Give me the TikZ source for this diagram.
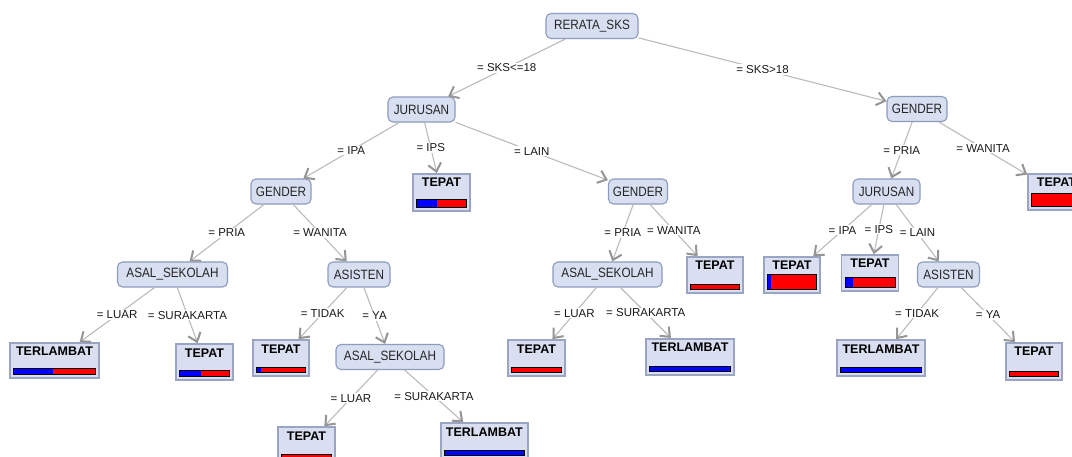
\documentclass[tikz,border=0pt]{standalone}
\usepackage{fontspec}
\setmainfont{Liberation Sans}
\newfontfamily\nodefont[FakeStretch=0.87]{Liberation Sans}
\usetikzlibrary{arrows.meta,calc}
\definecolor{nodefill}{HTML}{D8DFF1}
\definecolor{nodeline}{HTML}{8C9BBE}
\definecolor{leaffill}{HTML}{D9DFF0}
\definecolor{leafline}{HTML}{9AA5C3}
\definecolor{edgecol}{HTML}{BBBBBB}
\definecolor{tipcol}{HTML}{959595}
\definecolor{barblue}{HTML}{0000FF}
\definecolor{barred}{HTML}{FF0000}
\tikzset{
 inode/.style={draw=nodeline, fill=nodefill, line width=1.1pt, rounded corners=5pt, inner sep=0pt, minimum height=25pt, font=\nodefont\fontsize{13.5}{14}\selectfont, text=black!85},
 leaf/.style={draw=leafline, fill=leaffill, line width=1.6pt, inner sep=0pt},
 leaftext/.style={font=\bfseries\fontsize{12.5}{13}\selectfont, inner sep=0pt},
 edge/.style={draw=edgecol, line width=1.1pt, -{Straight Barb[length=8pt,width=13pt,line width=2pt,color=tipcol]}},
 elabel/.style={fill=white, inner sep=1pt, font=\fontsize{11.5}{12}\selectfont, text=black!90},
}
\newcommand{\leafbox}[8]{%
 \node[leaf, minimum width=#4pt, minimum height=#5pt] (#1) at (#2,#3) {};
 \node[leaftext] (#1t) at ([yshift=-9.5pt]#1.north) {#6};
 \pgfmathsetmacro{\lbxL}{#2-#4/2+3.5}
 \pgfmathsetmacro{\lbxR}{#2+#4/2-3.5}
 \pgfmathsetmacro{\lbxB}{#3+#5/2-3.5}
 \pgfmathsetmacro{\lbxT}{\lbxB-#7}
 \pgfmathsetmacro{\lbxM}{\lbxL+#8*(\lbxR-\lbxL)}
 \fill[barred] (\lbxL,\lbxT) rectangle (\lbxR,\lbxB);
 \fill[barblue] (\lbxL,\lbxT) rectangle (\lbxM,\lbxB);
 \draw[black, line width=0.9pt] (\lbxL,\lbxT) rectangle (\lbxR,\lbxB);
}
\begin{document}
\begin{tikzpicture}[x=1pt,y=-1pt]
\fill[white] (0,0) rectangle (1072,457);
\useasboundingbox (0,0) rectangle (1072,457);
% internal nodes
\node[inode, minimum width=92pt] (root) at (592,26) {RERATA\_SKS};
\node[inode, minimum width=67pt] (j1) at (421.5,109.5) {JURUSAN};
\node[inode, minimum width=60pt] (g2) at (917,109) {GENDER};
\node[inode, minimum width=60pt] (g1) at (281,191.5) {GENDER};
\node[inode, minimum width=59pt] (g3) at (638,191.5) {GENDER};
\node[inode, minimum width=67pt] (j2) at (886.5,191.5) {JURUSAN};
\node[inode, minimum width=110pt] (a1) at (172.5,274.5) {ASAL\_SEKOLAH};
\node[inode, minimum width=62pt] (s1) at (359,274.5) {ASISTEN};
\node[inode, minimum width=108pt] (a2) at (390,357) {ASAL\_SEKOLAH};
\node[inode, minimum width=109pt] (a3) at (607.5,274.5) {ASAL\_SEKOLAH};
\node[inode, minimum width=62pt] (s2) at (948.5,274.5) {ASISTEN};
% leaves
\leafbox{lips}{441.5}{192.5}{57}{37}{TEPAT}{8}{0.41}
\leafbox{lfar}{1056.5}{192}{57}{36}{TEPAT}{13}{0}
\leafbox{lluara}{54.5}{360.5}{89}{35}{TERLAMBAT}{6}{0.48}
\leafbox{lsura}{204.5}{362}{57}{36}{TEPAT}{6}{0.43}
\leafbox{ltidaka}{281}{358}{56}{36}{TEPAT}{5}{0.1}
\leafbox{lluarb}{306.5}{445}{57}{36}{TEPAT}{5}{0}
\leafbox{lsurb}{484.4}{441}{87}{36}{TERLAMBAT}{5}{1}
\leafbox{lluarc}{536.5}{358}{57}{36}{TEPAT}{5}{0}
\leafbox{lsurc}{690}{357}{87.5}{36.5}{TERLAMBAT}{5}{1}
\leafbox{lwanc}{715}{275}{56}{36}{TEPAT}{5}{0}
\leafbox{lipad}{792}{275}{56}{36}{TEPAT}{15}{0.07}
\leafbox{lipsd}{870}{273}{57}{36}{TEPAT}{10}{0.165}
\leafbox{ltidakd}{881}{358}{88}{36}{TERLAMBAT}{5}{1}
\leafbox{lyad}{1034}{361.5}{56}{37}{TEPAT}{5}{0}
% edges
\draw[edge] (root) -- node[elabel]{= SKS<=18} (j1);
\draw[edge] (root) -- node[elabel]{= SKS>18} (g2);
\draw[edge] (j1) -- node[elabel]{= IPA} (g1);
\draw[edge] (j1) -- node[elabel]{= IPS} (lips);
\draw[edge] (j1) -- node[elabel]{= LAIN} (g3);
\draw[edge] (g2) -- node[elabel]{= PRIA} (j2);
\draw[edge] (g2) -- node[elabel]{= WANITA} (lfar);
\draw[edge] (g1) -- node[elabel]{= PRIA} (a1);
\draw[edge] (g1) -- node[elabel]{= WANITA} (s1);
\draw[edge] (a1) -- node[elabel]{= LUAR} (lluara);
\draw[edge] (a1) -- node[elabel]{= SURAKARTA} (lsura);
\draw[edge] (s1) -- node[elabel]{= TIDAK} (ltidaka);
\draw[edge] (s1) -- node[elabel]{= YA} (a2);
\draw[edge] (a2) -- node[elabel]{= LUAR} (lluarb);
\draw[edge] (a2) -- node[elabel]{= SURAKARTA} (lsurb);
\draw[edge] (g3) -- node[elabel]{= PRIA} (a3);
\draw[edge] (g3) -- node[elabel]{= WANITA} (lwanc);
\draw[edge] (a3) -- node[elabel]{= LUAR} (lluarc);
\draw[edge] (a3) -- node[elabel]{= SURAKARTA} (lsurc);
\draw[edge] (j2) -- node[elabel]{= IPA} (lipad);
\draw[edge] (j2) -- node[elabel]{= IPS} (lipsd);
\draw[edge] (j2) -- node[elabel]{= LAIN} (s2);
\draw[edge] (s2) -- node[elabel]{= TIDAK} (ltidakd);
\draw[edge] (s2) -- node[elabel]{= YA} (lyad);
\end{tikzpicture}
\end{document}
